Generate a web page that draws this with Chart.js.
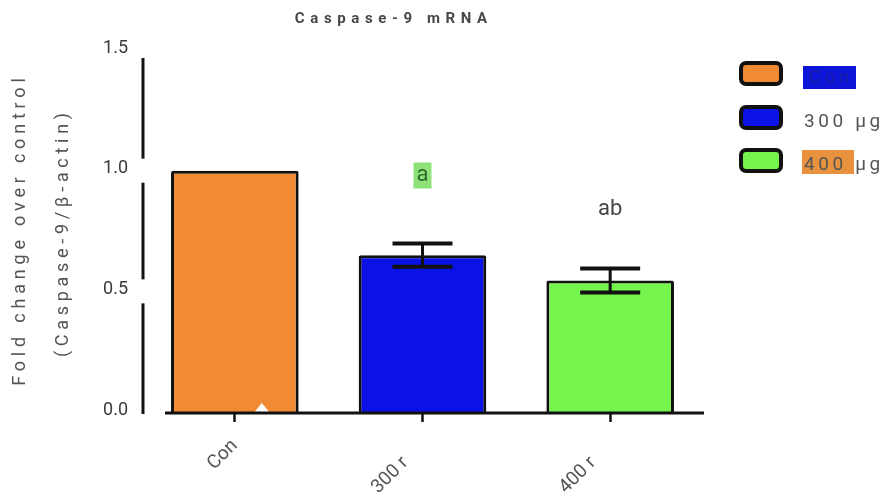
<!DOCTYPE html>
<html lang="en">
<head>
<meta charset="UTF-8">
<title>Caspase-9 mRNA</title>
<script src="https://cdn.jsdelivr.net/npm/chart.js"></script>
<style>
  html,body{margin:0;padding:0;background:#fff;}
  #wrap{position:relative;width:888px;height:498px;}
</style>
</head>
<body>
<div id="wrap"><canvas id="chart" width="888" height="498"></canvas></div>
<script>
// data
const categories = ['Con', '300 r \u2002\u2002', '400 r \u2002\u2002'];
const foldChange = [1.0, 0.65, 0.545];
const errors = [0, 0.048, 0.05];
const sigLabels = ['', 'a', 'ab'];
const sigLevels = [0, 0.98, 0.84];
const legendLabels = ['Con', '300 \u00b5g', '400 \u00b5g'];
const yTicks = [0, 0.5, 1.0, 1.5];

const barColors = ['#f08b34', '#0a12e6', '#74f44c'];
const FONT = 'Roboto, "Noto Sans", sans-serif';

function spacedText(ctx, text, x, y, spacing, align){
  ctx.letterSpacing = spacing + 'px';
  const w = ctx.measureText(text).width - spacing;
  let left = x;
  if(align === 'center') left = x - w / 2;
  if(align === 'right') left = x - w;
  ctx.textAlign = 'left';
  ctx.fillText(text, left, y);
  ctx.letterSpacing = '0px';
  return w;
}

const decor = {
  id: 'decor',
  afterDatasetsDraw(chart){
    const ctx = chart.ctx;
    const xs = chart.scales.x, ys = chart.scales.y;
    const area = chart.chartArea;
    ctx.save();

    // little white notch at the foot of the control bar
    const cx = xs.getPixelForValue(0) + 27;
    ctx.fillStyle = '#fff';
    ctx.beginPath();
    ctx.moveTo(cx - 9, area.bottom + 2);
    ctx.lineTo(cx, area.bottom - 9);
    ctx.lineTo(cx + 9, area.bottom + 2);
    ctx.closePath();
    ctx.fill();

    // error bars
    ctx.strokeStyle = '#111';
    ctx.lineCap = 'butt';
    errors.forEach((e, i) => {
      if(!e) return;
      const x = xs.getPixelForValue(i);
      const yt = ys.getPixelForValue(foldChange[i] + e);
      const yb = ys.getPixelForValue(foldChange[i] - e);
      ctx.lineWidth = 3;
      ctx.beginPath(); ctx.moveTo(x, yt); ctx.lineTo(x, yb); ctx.stroke();
      ctx.lineWidth = 4;
      ctx.beginPath(); ctx.moveTo(x - 30, yt); ctx.lineTo(x + 30, yt); ctx.stroke();
      ctx.beginPath(); ctx.moveTo(x - 30, yb); ctx.lineTo(x + 30, yb); ctx.stroke();
    });

    // significance letters
    ctx.textBaseline = 'middle';
    sigLabels.forEach((s, i) => {
      if(!s) return;
      const x = xs.getPixelForValue(i);
      const y = ys.getPixelForValue(sigLevels[i]);
      ctx.font = '22px ' + FONT;
      if(i === 1){
        const w = ctx.measureText(s).width;
        ctx.fillStyle = '#8ee27a';
        ctx.fillRect(x - w / 2 - 3, y - 13, w + 6, 26);
        ctx.fillStyle = '#2f6b2a';
      } else {
        ctx.fillStyle = '#444';
      }
      ctx.textAlign = 'center';
      ctx.fillText(s, x, y);
    });

    // axes, drawn Prism-style with gaps
    ctx.strokeStyle = '#111';
    ctx.lineWidth = 3;
    const ax = area.left + 2;
    const gaps = [1.0, 0.5].map(v => ys.getPixelForValue(v));
    const segs = [
      [ys.getPixelForValue(1.5) + 8, gaps[0] - 12],
      [gaps[0] + 12, gaps[1] - 12],
      [gaps[1] + 12, area.bottom + 2]
    ];
    segs.forEach(s => {
      ctx.beginPath(); ctx.moveTo(ax, s[0]); ctx.lineTo(ax, s[1]); ctx.stroke();
    });
    ctx.beginPath();
    ctx.moveTo(area.left + 24, area.bottom + 1);
    ctx.lineTo(area.right, area.bottom + 1);
    ctx.stroke();
    ctx.restore();
  },
  afterDraw(chart){
    const ctx = chart.ctx;
    ctx.save();
    ctx.textBaseline = 'middle';

    // title
    ctx.fillStyle = '#484848';
    ctx.font = 'bold 15px ' + FONT;
    spacedText(ctx, 'Caspase-9 mRNA', 391, 19, 5.6, 'center');

    // y-axis title, two lines
    ctx.save();
    ctx.translate(20, 232);
    ctx.rotate(-Math.PI / 2);
    ctx.font = '18px ' + FONT;
    ctx.fillStyle = '#555';
    spacedText(ctx, 'Fold change over control', 0, 0, 4.8, 'center');
    ctx.translate(-3, 43);
    spacedText(ctx, '(Caspase-9/\u03b2-actin)', 0, 0, 4.7, 'center');
    ctx.restore();

    // legend
    const rows = [73, 117, 160];
    rows.forEach((ry, i) => {
      ctx.lineWidth = 4;
      ctx.strokeStyle = '#111';
      ctx.fillStyle = barColors[i];
      ctx.beginPath();
      ctx.roundRect(741, ry - 10, 40, 21, 5);
      ctx.fill();
      ctx.stroke();

      ctx.font = '19px ' + FONT;
      const label = legendLabels[i];
      const ty = ry + 5;
      if(i === 0){
        ctx.fillStyle = '#0c14d8';
        ctx.fillRect(803, ry - 7, 53, 23);
        ctx.fillStyle = '#1a1fa6';
        spacedText(ctx, label, 829, ty, 3.6, 'center');
      } else if(i === 2){
        ctx.fillStyle = '#e8913e';
        ctx.fillRect(802, ry - 10, 52, 24);
        ctx.fillStyle = '#555';
        spacedText(ctx, label, 804, ty, 3.6, 'left');
      } else {
        ctx.fillStyle = '#555';
        spacedText(ctx, label, 804, ty, 3.6, 'left');
      }
    });
    ctx.restore();
  }
};

new Chart(document.getElementById('chart'), {
  type: 'bar',
  data: {
    labels: categories,
    datasets: [{
      data: foldChange,
      backgroundColor: barColors,
      borderColor: '#111',
      borderWidth: 3,
      borderRadius: 2,
      borderSkipped: 'start',
      categoryPercentage: 1.0,
      barPercentage: 0.68
    }]
  },
  options: {
    responsive: false,
    animation: false,
    layout: {padding: {left: 91, right: 184, top: 50, bottom: 0}},
    plugins: {legend: {display: false}, tooltip: {enabled: false}},
    scales: {
      x: {
        afterFit(scale){ scale.height = 86; },
        border: {display: false},
        grid: {display: true, drawOnChartArea: false, drawTicks: true, offset: false,
               tickLength: 10, tickColor: '#111', tickWidth: 2.5},
        ticks: {color: '#555', font: {family: FONT, size: 19}, padding: 13,
                minRotation: 45, maxRotation: 45}
      },
      y: {
        min: 0, max: 1.5,
        afterFit(scale){ scale.width = 50; },
        afterBuildTicks(scale){ scale.ticks = yTicks.map(v => ({value: v})); },
        border: {display: false},
        grid: {display: false, drawTicks: false},
        ticks: {color: '#3a3a3a', font: {family: FONT, size: 18}, padding: 13, labelOffset: -2,
                callback: v => Number(v).toFixed(1)}
      }
    }
  },
  plugins: [decor]
});
</script>
</body>
</html>
